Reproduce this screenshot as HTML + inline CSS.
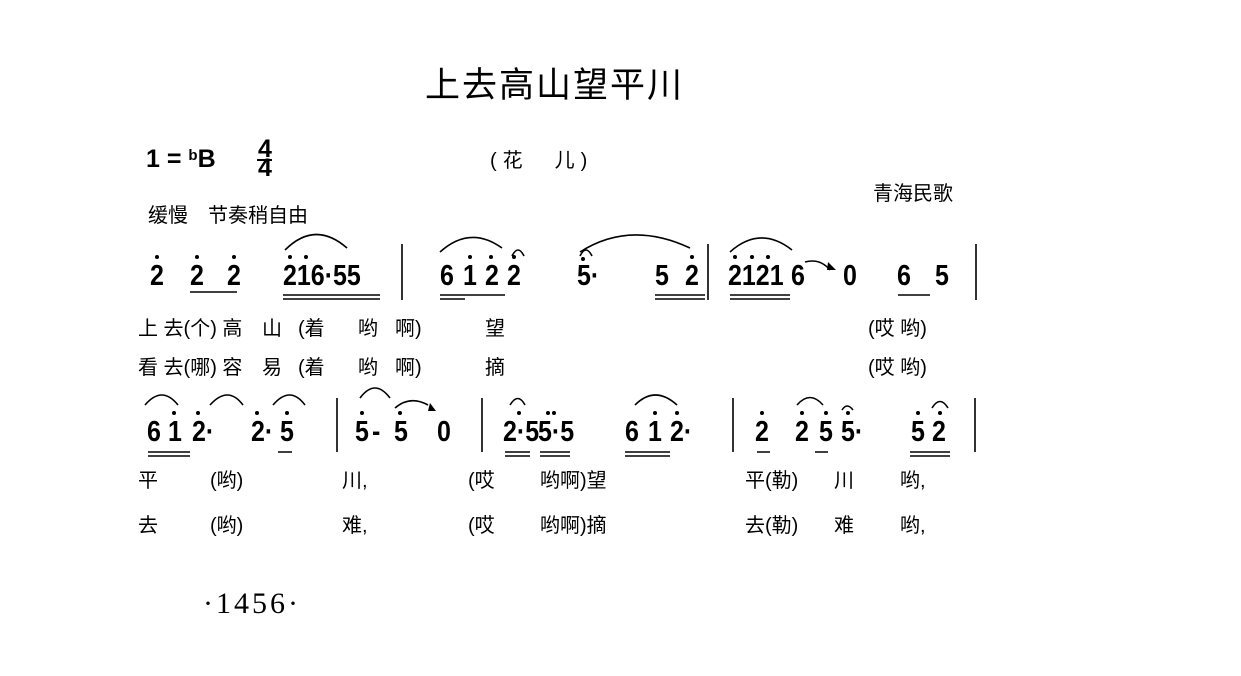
<!DOCTYPE html>
<html><head><meta charset="utf-8"><style>
html,body{margin:0;padding:0;background:#fff;}
svg{display:block}
.n{font-family:"Liberation Sans",sans-serif;font-weight:bold;font-size:25px;fill:#000}
.l{font-family:"Liberation Sans","Noto Sans CJK SC",sans-serif;font-size:20px;fill:#000}
</style></head><body>
<svg width="1241" height="676" viewBox="0 0 1241 676" xmlns="http://www.w3.org/2000/svg">
<g fill="none" stroke="#000" stroke-width="1.6">
<path d="M402 244V300M708 244V300M976 244V300M337 398V452M482 398V452M733 398V452M975 398V452"/>
<path d="M285 250Q315 220 347 248M440 252Q470 225 502 248M580 252Q630 220 690 248M730 252Q760 225 792 250"/>
<path d="M512 256Q518 244 524 256M580 256Q586 244 592 256"/>
<path d="M805 262Q820 258 830 270"/>
<path d="M145 405Q162 385 178 405M210 405Q228 385 243 405M273 405Q290 385 305 405M360 398Q375 378 390 398M395 408Q410 395 428 405M510 405Q518 392 525 405M635 405Q655 385 677 405M797 405Q810 390 823 405M842 410Q847 402 853 410M932 408Q940 395 948 408"/>
<path d="M190 292H237M283 295H380M283 299H380M440 295H505M440 299H465M655 295H705M655 299H705M730 295H790M730 299H790M898 295H930"/>
<path d="M148 452H190M148 456H190M278 452H292M505 452H530M505 456H530M540 452H570M540 456H570M625 452H670M625 456H670M757 452H770M815 452H828M910 452H950M910 456H950"/>
</g>
<path d="M828 262l8 8-9 0z" fill="#000"/>
<path d="M430 403l6 8-8 0z" fill="#000"/>
<g fill="#000">
<circle cx="157" cy="257" r="2"/><circle cx="197" cy="257" r="2"/><circle cx="234" cy="257" r="2"/>
<circle cx="290" cy="257" r="2"/><circle cx="306" cy="257" r="2"/>
<circle cx="470" cy="257" r="2"/><circle cx="491" cy="257" r="2"/><circle cx="514" cy="257" r="2"/>
<circle cx="583" cy="259" r="2"/><circle cx="692" cy="257" r="2"/>
<circle cx="735" cy="257" r="2"/><circle cx="752" cy="257" r="2"/><circle cx="768" cy="257" r="2"/>
<circle cx="174" cy="413" r="2"/><circle cx="198" cy="413" r="2"/><circle cx="257" cy="413" r="2"/><circle cx="287" cy="413" r="2"/>
<circle cx="362" cy="413" r="2"/><circle cx="400" cy="413" r="2"/>
<circle cx="519" cy="413" r="2"/><circle cx="548" cy="413" r="2"/><circle cx="554" cy="413" r="2"/><circle cx="677" cy="413" r="2"/><circle cx="655" cy="413" r="2"/>
<circle cx="762" cy="413" r="2"/><circle cx="802" cy="413" r="2"/><circle cx="826" cy="413" r="2"/><circle cx="848" cy="413" r="2"/><circle cx="918" cy="413" r="2"/><circle cx="940" cy="413" r="2"/>
</g>
<text x="425" y="97" font-family="'Liberation Sans','Noto Sans CJK SC',sans-serif" font-size="35" letter-spacing="2">上去高山望平川</text>
<text x="146" y="167" class="n" font-size="22">1 = <tspan font-size="15" dy="-7">b</tspan><tspan dy="7">B</tspan></text>
<text x="258" y="157" class="n" font-size="15">4</text>
<path d="M257 160H272" stroke="#000" stroke-width="2"/>
<text x="258" y="176" class="n" font-size="15">4</text>
<text x="490" y="167" class="l" font-size="20" letter-spacing="6">(花　儿)</text>
<text x="873" y="200" class="l" font-size="19">青海民歌</text>
<text x="148" y="222" class="l" font-size="16">缓慢　节奏稍自由</text>
<g transform="translate(0,285) scale(1,1.15)">
<text y="0" class="n"><tspan x="150">2</tspan><tspan x="190">2</tspan><tspan x="227">2</tspan><tspan x="283">216·55</tspan>
<tspan x="440">6</tspan><tspan x="463">1</tspan><tspan x="485">2</tspan><tspan x="507">2</tspan><tspan x="577">5·</tspan><tspan x="655">5</tspan><tspan x="685">2</tspan>
<tspan x="728">2121</tspan><tspan x="791">6</tspan><tspan x="843">0</tspan><tspan x="897">6</tspan><tspan x="935">5</tspan></text>
</g>
<text y="335" class="l"><tspan x="138">上 去(个) 高</tspan><tspan x="262">山</tspan><tspan x="298">(着</tspan><tspan x="358">哟</tspan><tspan x="395">啊)</tspan><tspan x="485">望</tspan><tspan x="868">(哎 哟)</tspan></text>
<text y="374" class="l"><tspan x="138">看 去(哪) 容</tspan><tspan x="262">易</tspan><tspan x="298">(着</tspan><tspan x="358">哟</tspan><tspan x="395">啊)</tspan><tspan x="485">摘</tspan><tspan x="868">(哎 哟)</tspan></text>
<g transform="translate(0,441) scale(1,1.15)">
<text y="0" class="n"><tspan x="147">6</tspan><tspan x="168">1</tspan><tspan x="192">2·</tspan><tspan x="251">2·</tspan><tspan x="280">5</tspan>
<tspan x="355">5</tspan><tspan x="372">-</tspan><tspan x="394">5</tspan><tspan x="437">0</tspan>
<tspan x="503">2·5</tspan><tspan x="538">5·5</tspan><tspan x="625">6</tspan><tspan x="648">1</tspan><tspan x="670">2·</tspan>
<tspan x="755">2</tspan><tspan x="795">2</tspan><tspan x="819">5</tspan><tspan x="841">5·</tspan><tspan x="911">5</tspan><tspan x="932">2</tspan></text>
</g>
<text y="487" class="l"><tspan x="138">平</tspan><tspan x="210">(哟)</tspan><tspan x="342">川,</tspan><tspan x="468">(哎</tspan><tspan x="540">哟啊)望</tspan><tspan x="745">平(勒)</tspan><tspan x="834">川</tspan><tspan x="900">哟,</tspan></text>
<text y="532" class="l"><tspan x="138">去</tspan><tspan x="210">(哟)</tspan><tspan x="342">难,</tspan><tspan x="468">(哎</tspan><tspan x="540">哟啊)摘</tspan><tspan x="745">去(勒)</tspan><tspan x="834">难</tspan><tspan x="900">哟,</tspan></text>
<text x="203" y="613" font-family="'Liberation Serif',serif" font-size="30" letter-spacing="3">·1456·</text>
</svg>
</body></html>
